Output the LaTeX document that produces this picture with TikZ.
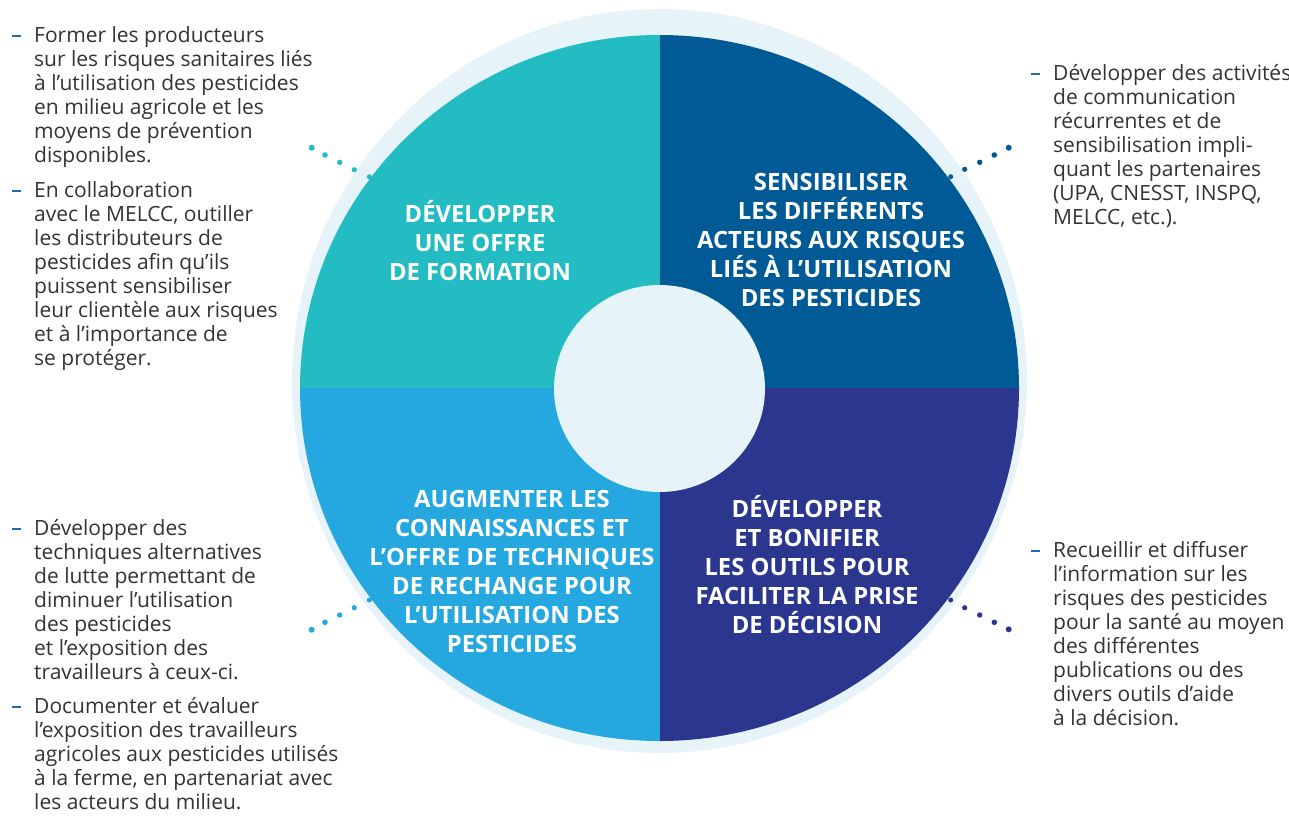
\documentclass[tikz,border=0pt]{standalone}
\usepackage{fontspec}
\setmainfont{Open Sans}
\definecolor{ringc}{HTML}{E6F4F9}
\definecolor{qtl}{HTML}{22BCC2}
\definecolor{qtr}{HTML}{005A96}
\definecolor{qbl}{HTML}{25A8E0}
\definecolor{qbr}{HTML}{2B378E}
\definecolor{txtc}{HTML}{333333}
\definecolor{dashc}{HTML}{1F6DB3}
\tikzset{
  side/.style={anchor=north west, inner sep=0pt, align=left, text=txtc,
    font=\fontsize{21}{24}\selectfont},
  quad/.style={anchor=center, inner sep=0pt, align=center, text=white,
    font=\fontsize{23.8}{29}\selectfont\bfseries},
  bulletdash/.style={draw=dashc, line width=2pt},
}
\begin{document}
\begin{tikzpicture}[x=1pt,y=-1pt]
\useasboundingbox (0,0) rectangle (1289,815);
% outer ring
\fill[ringc] (659.5,381) ellipse [x radius=367.5pt, y radius=372pt];
% quadrants
\begin{scope}
  \clip (659.5,388) ellipse [x radius=359.5pt, y radius=353pt];
  \fill[qtl] (290,20) rectangle (659.5,388);
  \fill[qtr] (659.5,20) rectangle (1030,388);
  \fill[qbl] (290,388) rectangle (659.5,760);
  \fill[qbr] (659.5,388) rectangle (1030,760);
\end{scope}
% inner circle
\fill[ringc] (659.5,388.5) ellipse [x radius=105.5pt, y radius=103.5pt];

% quadrant labels
\node[quad] (qA) at (480,240.5) {DÉVELOPPER\\UNE OFFRE\\DE FORMATION};
\node[quad] (qB) at (831,239.5) {SENSIBILISER\\LES DIFFÉRENTS\\ACTEURS AUX RISQUES\\LIÉS À L'UTILISATION\\DES PESTICIDES};
\node[quad] (qC) at (512,571) {AUGMENTER LES\\CONNAISSANCES ET\\L’OFFRE DE TECHNIQUES\\DE RECHANGE POUR\\L’UTILISATION DES\\PESTICIDES};
\node[quad] (qD) at (807,565) {DÉVELOPPER\\ET BONIFIER\\LES OUTILS POUR\\FACILITER LA PRISE\\DE DÉCISION};

% dots
\foreach \x/\y/\r in {311.7/147.7/3.0, 325/155/2.8, 339.7/162.3/2.7, 354.3/169.7/2.6, 369.3/176.7/2.5}
  \fill[qtl] (\x,\y) circle[radius=\r pt];
\foreach \x/\y/\r in {1008.7/147.7/3.0, 994.3/155/2.8, 979.7/162.3/2.7, 964.7/169.3/2.6, 950.7/176.7/2.5}
  \fill[qtr] (\x,\y) circle[radius=\r pt];
\foreach \x/\y/\r in {311.7/629.7/3.0, 325/622.3/2.8, 339.7/615/2.7, 354.3/607.7/2.6, 369.3/600/2.5}
  \fill[qbl] (\x,\y) circle[radius=\r pt];
\foreach \x/\y/\r in {1008.7/629.3/3.0, 994.3/622.3/2.8, 979.7/615/2.7, 964.7/607.7/2.6, 950.7/600/2.5}
  \fill[qbr] (\x,\y) circle[radius=\r pt];

% side texts
\node[side] (L1) at (34,26.5) {Former les producteurs\\sur les risques sanitaires liés\\à l’utilisation des pesticides\\en milieu agricole et les\\moyens de prévention\\disponibles.};
\node[side] (L2) at (34,181.5) {En collaboration\\avec le MELCC, outiller\\les distributeurs de\\pesticides afin qu’ils\\puissent sensibiliser\\leur clientèle aux risques\\et à l’importance de\\se protéger.};
\node[side] (L3) at (34,519.5) {Développer des\\techniques alternatives\\de lutte permettant de\\diminuer l’utilisation\\des pesticides\\et l’exposition des\\travailleurs à ceux-ci.};
\node[side] (L4) at (34,697.5) {Documenter et évaluer\\l’exposition des travailleurs\\agricoles aux pesticides utilisés\\à la ferme, en partenariat avec\\les acteurs du milieu.};
\node[side] (R1) at (1053,64.5) {Développer des activités\\de communication\\récurrentes et de\\sensibilisation impli-\\quant les partenaires\\(UPA, CNESST, INSPQ,\\MELCC, etc.).};
\node[side] (R2) at (1053,541.5) {Recueillir et diffuser\\l’information sur les\\risques des pesticides\\pour la santé au moyen\\des différentes\\publications ou des\\divers outils d’aide\\à la décision.};

% bullet dashes
\foreach \n in {L1,L2,L3,L4,R1,R2}
  \draw[bulletdash] ([xshift=-22pt,yshift=-9.5pt]\n.north west) -- ++(9,0);
\end{tikzpicture}
\end{document}
